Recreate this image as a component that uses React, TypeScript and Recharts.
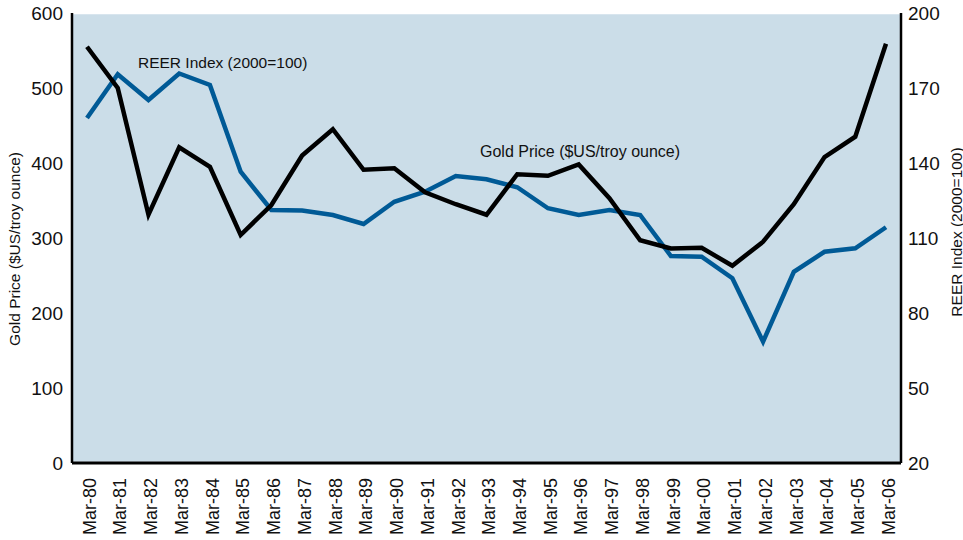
import { LineChart, Line, XAxis, YAxis, CartesianGrid } from 'recharts';

const years = [
  'Mar-80', 'Mar-81', 'Mar-82', 'Mar-83', 'Mar-84', 'Mar-85', 'Mar-86', 'Mar-87', 'Mar-88',
  'Mar-89', 'Mar-90', 'Mar-91', 'Mar-92', 'Mar-93', 'Mar-94', 'Mar-95', 'Mar-96', 'Mar-97',
  'Mar-98', 'Mar-99', 'Mar-00', 'Mar-01', 'Mar-02', 'Mar-03', 'Mar-04', 'Mar-05', 'Mar-06',
];

// gold price, $US/troy ounce (left axis)
const goldPrice = [
  555, 500, 331, 421, 395, 304, 344, 410, 445,
  391, 393, 361, 345, 331, 385, 383, 398, 353,
  297, 286, 287, 263, 295, 345, 408, 435, 559,
];

// REER index, 2000=100 (right axis)
const reerIndex = [
  158, 175.5, 165.2, 175.8, 171.2, 136.5, 121.2, 121, 119.2,
  115.6, 124.5, 128.5, 134.8, 133.5, 130.3, 121.9, 119.2, 121.2,
  119.2, 102.8, 102.5, 93.9, 68.5, 96.5, 104.5, 105.9, 114.3,
];

const leftTicks = [0, 100, 200, 300, 400, 500, 600];
const rightTicks = [20, 50, 80, 110, 140, 170, 200];

const data = years.map((year, i) => ({
  year,
  gold: goldPrice[i],
  reer: reerIndex[i],
}));

const FONT = '"Liberation Sans", Arial, Helvetica, sans-serif';

export default function App() {
  return (
    <div
      style={{
        position: 'absolute',
        left: 0,
        top: 0,
        width: 963,
        height: 540,
        background: '#fff',
        fontFamily: FONT,
      }}
    >
      <LineChart
        width={963}
        height={540}
        data={data}
        margin={{ top: 13, right: 0, left: 0, bottom: 0 }}
      >
        <CartesianGrid
          vertical={false}
          fill="#cbdde8"
          fillOpacity={1}
          stroke="#ffffff"
          strokeWidth={2.5}
          strokeDasharray="0"
        />
        <XAxis
          dataKey="year"
          height={77}
          interval={0}
          padding={{ left: 15, right: 15 }}
          tickSize={0}
          tickMargin={15}
          axisLine={{ stroke: '#000', strokeWidth: 3 }}
          tick={{
            fill: '#111',
            fontSize: 18,
            fontFamily: FONT,
            angle: -90,
            textAnchor: 'end',
            verticalAnchor: 'middle',
            dx: -4,
          }}
        />
        <YAxis
          yAxisId="left"
          orientation="left"
          width={72}
          domain={[0, 600]}
          ticks={leftTicks}
          tickSize={0}
          tickMargin={9}
          axisLine={{ stroke: '#000', strokeWidth: 2.5 }}
          tick={{ fill: '#111', fontSize: 19, fontFamily: FONT }}
        />
        <YAxis
          yAxisId="right"
          orientation="right"
          width={62}
          domain={[20, 200]}
          ticks={rightTicks}
          tickSize={0}
          tickMargin={7}
          axisLine={{ stroke: '#000', strokeWidth: 2.5 }}
          tick={{ fill: '#111', fontSize: 19, fontFamily: FONT, textAnchor: 'start' }}
        />
        <Line
          yAxisId="right"
          type="linear"
          dataKey="reer"
          stroke="#005a96"
          strokeWidth={4.5}
          dot={false}
          isAnimationActive={false}
        />
        <Line
          yAxisId="left"
          type="linear"
          dataKey="gold"
          stroke="#000000"
          strokeWidth={4.5}
          dot={false}
          isAnimationActive={false}
        />
      </LineChart>
      <svg
        width={963}
        height={540}
        style={{ position: 'absolute', left: 0, top: 0, pointerEvents: 'none' }}
      >
        <g fontFamily={FONT} fill="#111">
          <text x={138} y={68} fontSize={15.5}>
            REER Index (2000=100)
          </text>
          <text x={480} y={157} fontSize={16}>
            Gold Price ($US/troy ounce)
          </text>
          <text
            x={14}
            y={249}
            fontSize={15.5}
            textAnchor="middle"
            dominantBaseline="central"
            transform="rotate(-90, 14, 249)"
          >
            Gold Price ($US/troy ounce)
          </text>
          <text
            x={956}
            y={232}
            fontSize={15.5}
            textAnchor="middle"
            dominantBaseline="central"
            transform="rotate(-90, 956, 232)"
          >
            REER Index (2000=100)
          </text>
        </g>
      </svg>
    </div>
  );
}
